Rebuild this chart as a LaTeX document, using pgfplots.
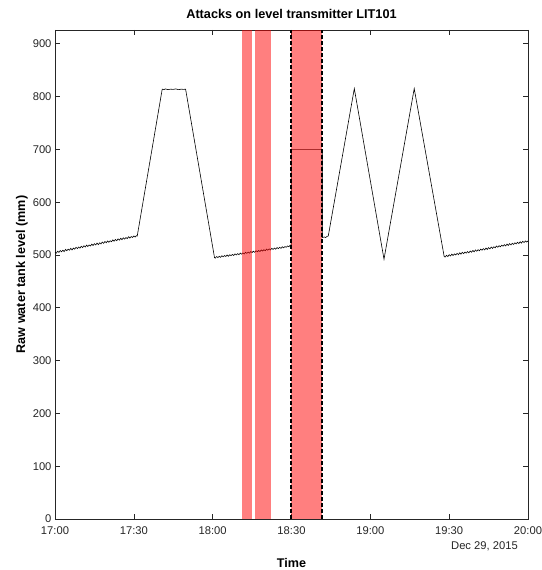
\documentclass[border=0pt]{standalone}
\usepackage{fontspec}
\setmainfont{Liberation Sans}
\usepackage{pgfplots}
\pgfplotsset{compat=1.18}

\begin{document}
\begin{tikzpicture}
\begin{axis}[
  scale only axis, width=473pt, height=489pt,
  xmin=0, xmax=180, ymin=0, ymax=926,
  xtick={0,30,...,180},
  xticklabels={17:00,17:30,18:00,18:30,19:00,19:30,20:00},
  ytick={0,100,...,900},
  tick align=inside, major tick length=5pt,
  axis line style={draw=black!85, line width=0.6pt},
  every tick/.style={black!85, line width=0.6pt},
  ticklabel style={font=\fontsize{11.2}{13}\selectfont, text=black!85},
  xticklabel style={yshift=-4.5pt},
  /pgf/number format/assume math mode=true,
  title={\textbf{Attacks on level transmitter LIT101}},
  title style={font=\fontsize{12.7}{15}\selectfont, at={(axis description cs:0.5,1.021)}, anchor=center},
  xlabel={\textbf{Time}},
  xlabel style={font=\fontsize{12.6}{15}\selectfont, at={(axis description cs:0.5,-0.090)}, anchor=center},
  ylabel={\textbf{Raw water tank level (mm)}},
  ylabel style={font=\fontsize{12.6}{15}\selectfont, at={(axis description cs:-0.070,0.5)}, anchor=center},
  clip=true,
]
% raw water tank level LIT101
\addplot[black, line width=0.6pt] coordinates {
(0,505)(0.5,503.5)(1,507)(1.5,505)(2,508.5)(2.5,506)(3,509)(3.5,506.5)(4,510.5)(4.5,508)
(5,511)(5.5,509)(6,512.5)(6.5,509.5)(7,513)(7.5,511)(8,514.5)(8.5,512)(9,515)(9.5,513)
(10,516.5)(10.5,514)(11,517.5)(11.5,515)(12,518.5)(12.5,516)(13,519)(13.5,517)(14,520.5)(14.5,518)
(15,521.5)(15.5,519)(16,522.5)(16.5,519.5)(17,523)(17.5,521)(18,524.5)(18.5,522)(19,525.5)(19.5,523)
(20,526.5)(20.5,524)(21,527)(21.5,525)(22,528.5)(22.5,526)(23,529.5)(23.5,527)(24,530.5)(24.5,528)
(25,531.5)(25.5,529)(26,532.5)(26.5,530)(27,533)(27.5,531)(28,534.5)(28.5,532)(29,535)(29.5,533)
(30,536)(30.5,534)(31,536.5)(31.3,536)
(40.8,814)(41.5,813)(42,814.5)(43,813)(44,814)(45,813.5)(46,814.5)(47,813)(48,814)(49,813.5)(49.7,814)
(60.7,495)(61,494)(61.5,497)(62,495)(62.5,497.5)(63,495.5)(63.5,498.5)(64,496.5)(64.5,499)
(65,497)(65.5,500)(66,497.5)(66.5,500.5)(67,498.5)(67.5,501)(68,499)(68.5,502)(69,500)(69.5,502.5)
(70,500.5)(70.5,503.5)(71,501.5)(71.5,504)(72,502)(72.5,505)(73,503)(73.5,505.5)(74,503.5)(74.5,506.5)
(75,504.5)(75.5,507)(76,505)(76.5,508)(77,506)(77.5,508.5)(78,506.5)(78.5,509.5)(79,507.5)(79.5,510)
(80,508)(80.5,511)(81,509)(81.5,511.5)(82,509.5)(82.5,512.5)(83,510.5)(83.5,513)(84,511)(84.5,514)
(85,512)(85.5,514.5)(86,512.5)(86.5,515.5)(87,513.5)(87.5,516)(88,514.5)(88.5,517)(89,515.5)(89.5,518.5)(89.9,518.5)
(89.9,700)(101.7,700)(101.7,533)
(102.5,534)(103,533)(103.5,535)(104,536)
(113.9,815)(125.2,492)(136.7,815)
(148.1,497)(148.5,496)(149,499.5)(149.5,497)(150,500.5)(150.5,498)(151,501.5)(151.5,499)(152,502)(152.5,500)
(153,503)(153.5,500.5)(154,504)(154.5,501.5)(155,505)(155.5,502.5)(156,505.5)(156.5,503.5)(157,506.5)(157.5,504)
(158,507.5)(158.5,505)(159,508.5)(159.5,506)(160,509.5)(160.5,507)(161,510)(161.5,508)(162,511)(162.5,509)
(163,512)(163.5,509.5)(164,513)(164.5,510.5)(165,514)(165.5,511.5)(166,515)(166.5,512.5)(167,515.5)(167.5,513.5)
(168,517)(168.5,514.5)(169,517.5)(169.5,515.5)(170,518.5)(170.5,516.5)(171,519.5)(171.5,517)(172,520.5)(172.5,518)
(173,521.5)(173.5,519)(174,522)(174.5,520)(175,523)(175.5,521)(176,524)(176.5,521.5)(177,525)(177.5,522.5)
(178,526)(178.5,523.5)(179,526.5)(179.5,524.5)(180,526.5)
};
% attack windows
\addplot[draw=none, fill=red, fill opacity=0.5] coordinates {(71.0,0)(74.9,0)(74.9,926)(71.0,926)} -- cycle;
\addplot[draw=none, fill=red, fill opacity=0.5] coordinates {(76.0,0)(82.3,0)(82.3,926)(76.0,926)} -- cycle;
\addplot[draw=none, fill=red, fill opacity=0.5] coordinates {(89.9,0)(101.7,0)(101.7,926)(89.9,926)} -- cycle;
\addplot[black, line width=1.5pt, dash pattern=on 4pt off 2pt] coordinates {(89.9,0)(89.9,926)};
\addplot[black, line width=1.5pt, dash pattern=on 4pt off 2pt] coordinates {(101.7,0)(101.7,926)};
\coordinate (sw) at (rel axis cs:0,0);
\coordinate (se) at (rel axis cs:1,0);
\coordinate (ne) at (rel axis cs:1,1);
\end{axis}
\node[anchor=east, font=\fontsize{11.2}{13}\selectfont, text=black!85, inner sep=0pt] at ([xshift=-10pt,yshift=-27.7pt]se) {Dec 29, 2015};
\pgfresetboundingbox
\path[use as bounding box] ([xshift=-55pt,yshift=-51pt]sw) rectangle ([xshift=13pt,yshift=30pt]ne);
\end{tikzpicture}
\end{document}
